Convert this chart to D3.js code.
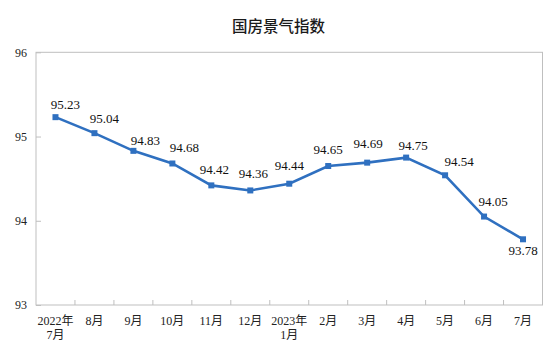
<!DOCTYPE html>
<html><head><meta charset="utf-8">
<script src="https://cdn.jsdelivr.net/npm/d3@7"></script>
<style>body{margin:0;background:#fff}svg{display:block}</style>
</head><body><div id="chart"></div>
<script>
const categories = ["2022年\n7月","8月","9月","10月","11月","12月","2023年\n1月","2月","3月","4月","5月","6月","7月"];
const values = [95.23,95.04,94.83,94.68,94.42,94.36,94.44,94.65,94.69,94.75,94.54,94.05,93.78];
const yTicks = [93,94,95,96];
const title = "国房景气指数";
// label nudges (dx, dy from point) as placed in the original
const labelDx = [10,10,12,12,3,3,0,0,1,7,14,9,0];
const labelDy = [-8,-10,-6,-11,-11,-12,-14,-12,-15,-8,-9,-11,16];

const W=556,H=360, L=36, R=542.5, T=52.3, B=305;
const svg=d3.select("#chart").append("svg").attr("width",W).attr("height",H);
const x=d3.scaleBand().domain(d3.range(categories.length)).range([L,R]);
const y=d3.scaleLinear().domain([93,96]).range([B,T]);
const serif='"Liberation Serif","Noto Sans CJK SC",serif';

svg.append("text").attr("x",278.5).attr("y",32).attr("text-anchor","middle")
  .attr("font-family",'"Noto Sans CJK SC",sans-serif').attr("font-size",15.5).attr("font-weight",500)
  .attr("fill","#1a1a1a").text(title);

// frame
svg.append("rect").attr("x",L).attr("y",T).attr("width",R-L).attr("height",B-T)
  .attr("fill","none").attr("stroke","#bfbfbf").attr("stroke-width",1);

// y axis
const ya=svg.append("g").attr("transform",`translate(${L},0)`)
  .call(d3.axisLeft(y).tickValues(yTicks).tickSize(-5).tickPadding(9).tickFormat(d3.format("d")));
ya.select(".domain").remove();
ya.selectAll("line").attr("stroke","#bfbfbf");
ya.selectAll("text").attr("font-family",serif).attr("font-size",12).attr("fill","#222");

// x axis ticks at band boundaries
svg.append("g").selectAll("line").data(d3.range(1,categories.length)).join("line")
  .attr("x1",i=>x(i)).attr("x2",i=>x(i)).attr("y1",B).attr("y2",B-5)
  .attr("stroke","#bfbfbf");
const xl=svg.append("g").selectAll("text").data(categories).join("text")
  .attr("x",(d,i)=>x(i)+x.bandwidth()/2).attr("y",325)
  .attr("text-anchor","middle").attr("font-family",serif).attr("font-size",12).attr("fill","#222");
xl.each(function(d){
  const t=d3.select(this);
  d.split("\n").forEach((s,k)=>t.append("tspan").attr("x",t.attr("x")).attr("dy",k?14:0).text(s));
});

const cx=i=>x(i)+x.bandwidth()/2;
svg.append("path").datum(values)
  .attr("d",d3.line().x((d,i)=>cx(i)).y(d=>y(d)))
  .attr("fill","none").attr("stroke","#2f70c0").attr("stroke-width",2.6);
svg.append("g").selectAll("rect").data(values).join("rect")
  .attr("x",(d,i)=>cx(i)-3).attr("y",d=>y(d)-3).attr("width",6).attr("height",6)
  .attr("fill","#2f70c0");
svg.append("g").selectAll("text").data(values).join("text")
  .attr("x",(d,i)=>cx(i)+labelDx[i]).attr("y",(d,i)=>y(d)+labelDy[i])
  .attr("text-anchor","middle").attr("font-family",serif).attr("font-size",13).attr("fill","#111")
  .text(d=>d3.format(".2f")(d));
</script></body></html>
